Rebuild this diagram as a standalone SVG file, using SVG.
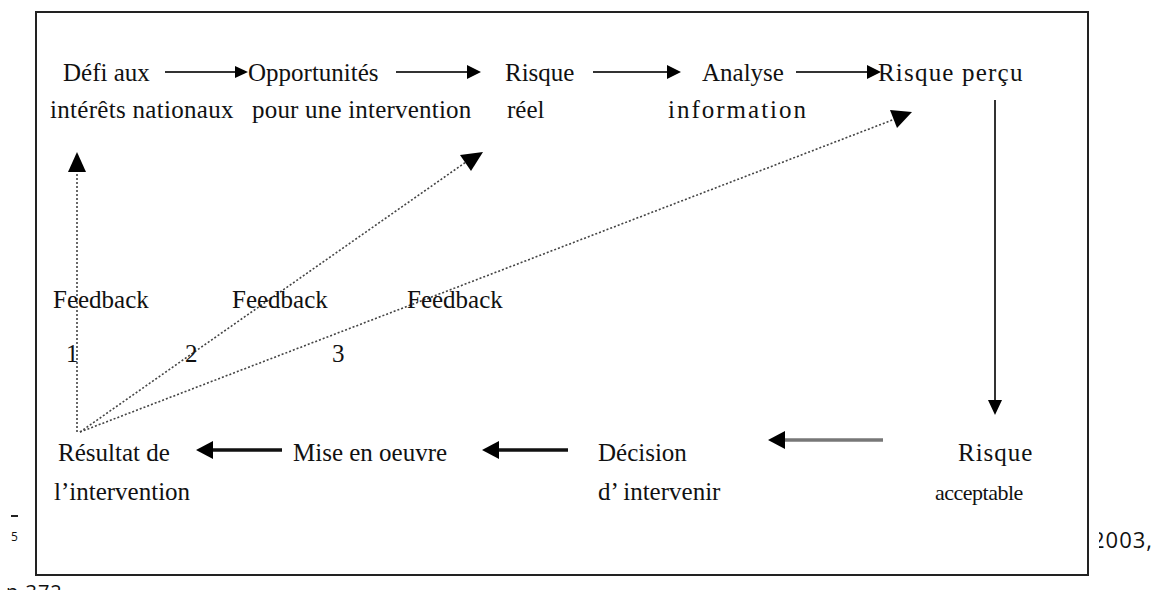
<svg xmlns="http://www.w3.org/2000/svg" width="1153" height="590" viewBox="0 0 1153 590">
<style>
.t{font-family:"Liberation Serif","Times New Roman",serif;font-size:25px;fill:#111}
.o{font-family:"Open Sans","Liberation Sans",sans-serif;fill:#111}
.s{stroke:#333;stroke-width:2;fill:none}
.d{stroke:#444;stroke-width:1.6;stroke-dasharray:2 2;fill:none}
</style>
<rect width="1153" height="590" fill="#fff"/>
<text class="o" x="1092" y="548" font-size="22" letter-spacing="1">2003,</text>
<rect x="1080" y="525" width="19" height="30" fill="#fff"/>
<text class="o" x="6" y="599" font-size="20" letter-spacing="1">p.372.</text>
<line x1="11" y1="516" x2="18" y2="516" stroke="#222" stroke-width="2"/>
<text class="o" x="11" y="541" font-size="12">5</text>
<rect id="frame" x="36" y="12" width="1052" height="563" fill="none" stroke="#222" stroke-width="2"/>

<g id="connectors">
<path class="s" d="M165,72 H236"/><path d="M235,66 L248,72 L235,78 z"/>
<path class="s" d="M396,72 H468"/><path d="M467,65 L481,72 L467,79 z"/>
<path class="s" d="M593,72 H668"/><path d="M667,65 L681,72 L667,79 z"/>
<path class="s" d="M796,72 H868"/><path d="M867,65 L881,72 L867,79 z"/>
<path class="s" d="M995,100 V400"/><path d="M988,400 L995,415 L1002,400 z"/>
<path d="M282,450 H212" stroke="#111" stroke-width="3.5"/><path d="M213,441 L196,450 L213,459 z"/>
<path d="M568,450 H498" stroke="#111" stroke-width="3.5"/><path d="M499,441 L482,450 L499,459 z"/>
<path d="M883,440 H784" stroke="#777" stroke-width="3.5"/><path d="M785,431 L768,440 L785,449 z"/>
<path class="d" d="M77,432 V170"/><path d="M68,172 L77,152 L86,172 z"/>
<path class="d" d="M80,432 L466,162"/><path d="M460,155 L483,152 L471,171 z"/>
<path class="d" d="M80,432 L895,119"/><path d="M890,110 L912,112 L897,128 z"/>
</g>

<g id="n1"><text class="t" x="63" y="81">Défi aux</text><text class="t" x="50" y="118" letter-spacing="0.3">intérêts nationaux</text></g>
<g id="n2"><text class="t" x="248" y="81">Opportunités</text><text class="t" x="252" y="118" letter-spacing="0.2">pour une intervention</text></g>
<g id="n3"><text class="t" x="505" y="81">Risque</text><text class="t" x="507" y="118">réel</text></g>
<g id="n4"><text class="t" x="702" y="81">Analyse</text><text class="t" x="668" y="118" letter-spacing="2">information</text></g>
<g id="n5"><text class="t" x="878" y="81" letter-spacing="1.2">Risque perçu</text></g>
<g id="n6"><text class="t" x="958" y="461" letter-spacing="1">Risque</text><text class="t" x="935" y="500" style="font-size:22px" letter-spacing="-0.5">acceptable</text></g>
<g id="n7"><text class="t" x="598" y="461">Décision</text><text class="t" x="598" y="500">d’ intervenir</text></g>
<g id="n8"><text class="t" x="293" y="461">Mise en oeuvre</text></g>
<g id="n9"><text class="t" x="58" y="461">Résultat de</text><text class="t" x="54" y="500">l’intervention</text></g>
<g id="labels">
<text class="t" x="53" y="308">Feedback</text>
<text class="t" x="232" y="308">Feedback</text>
<text class="t" x="407" y="308">Feedback</text>
<text class="t" x="66" y="362">1</text>
<text class="t" x="185" y="362">2</text>
<text class="t" x="332" y="362">3</text>
</g>
</svg>
